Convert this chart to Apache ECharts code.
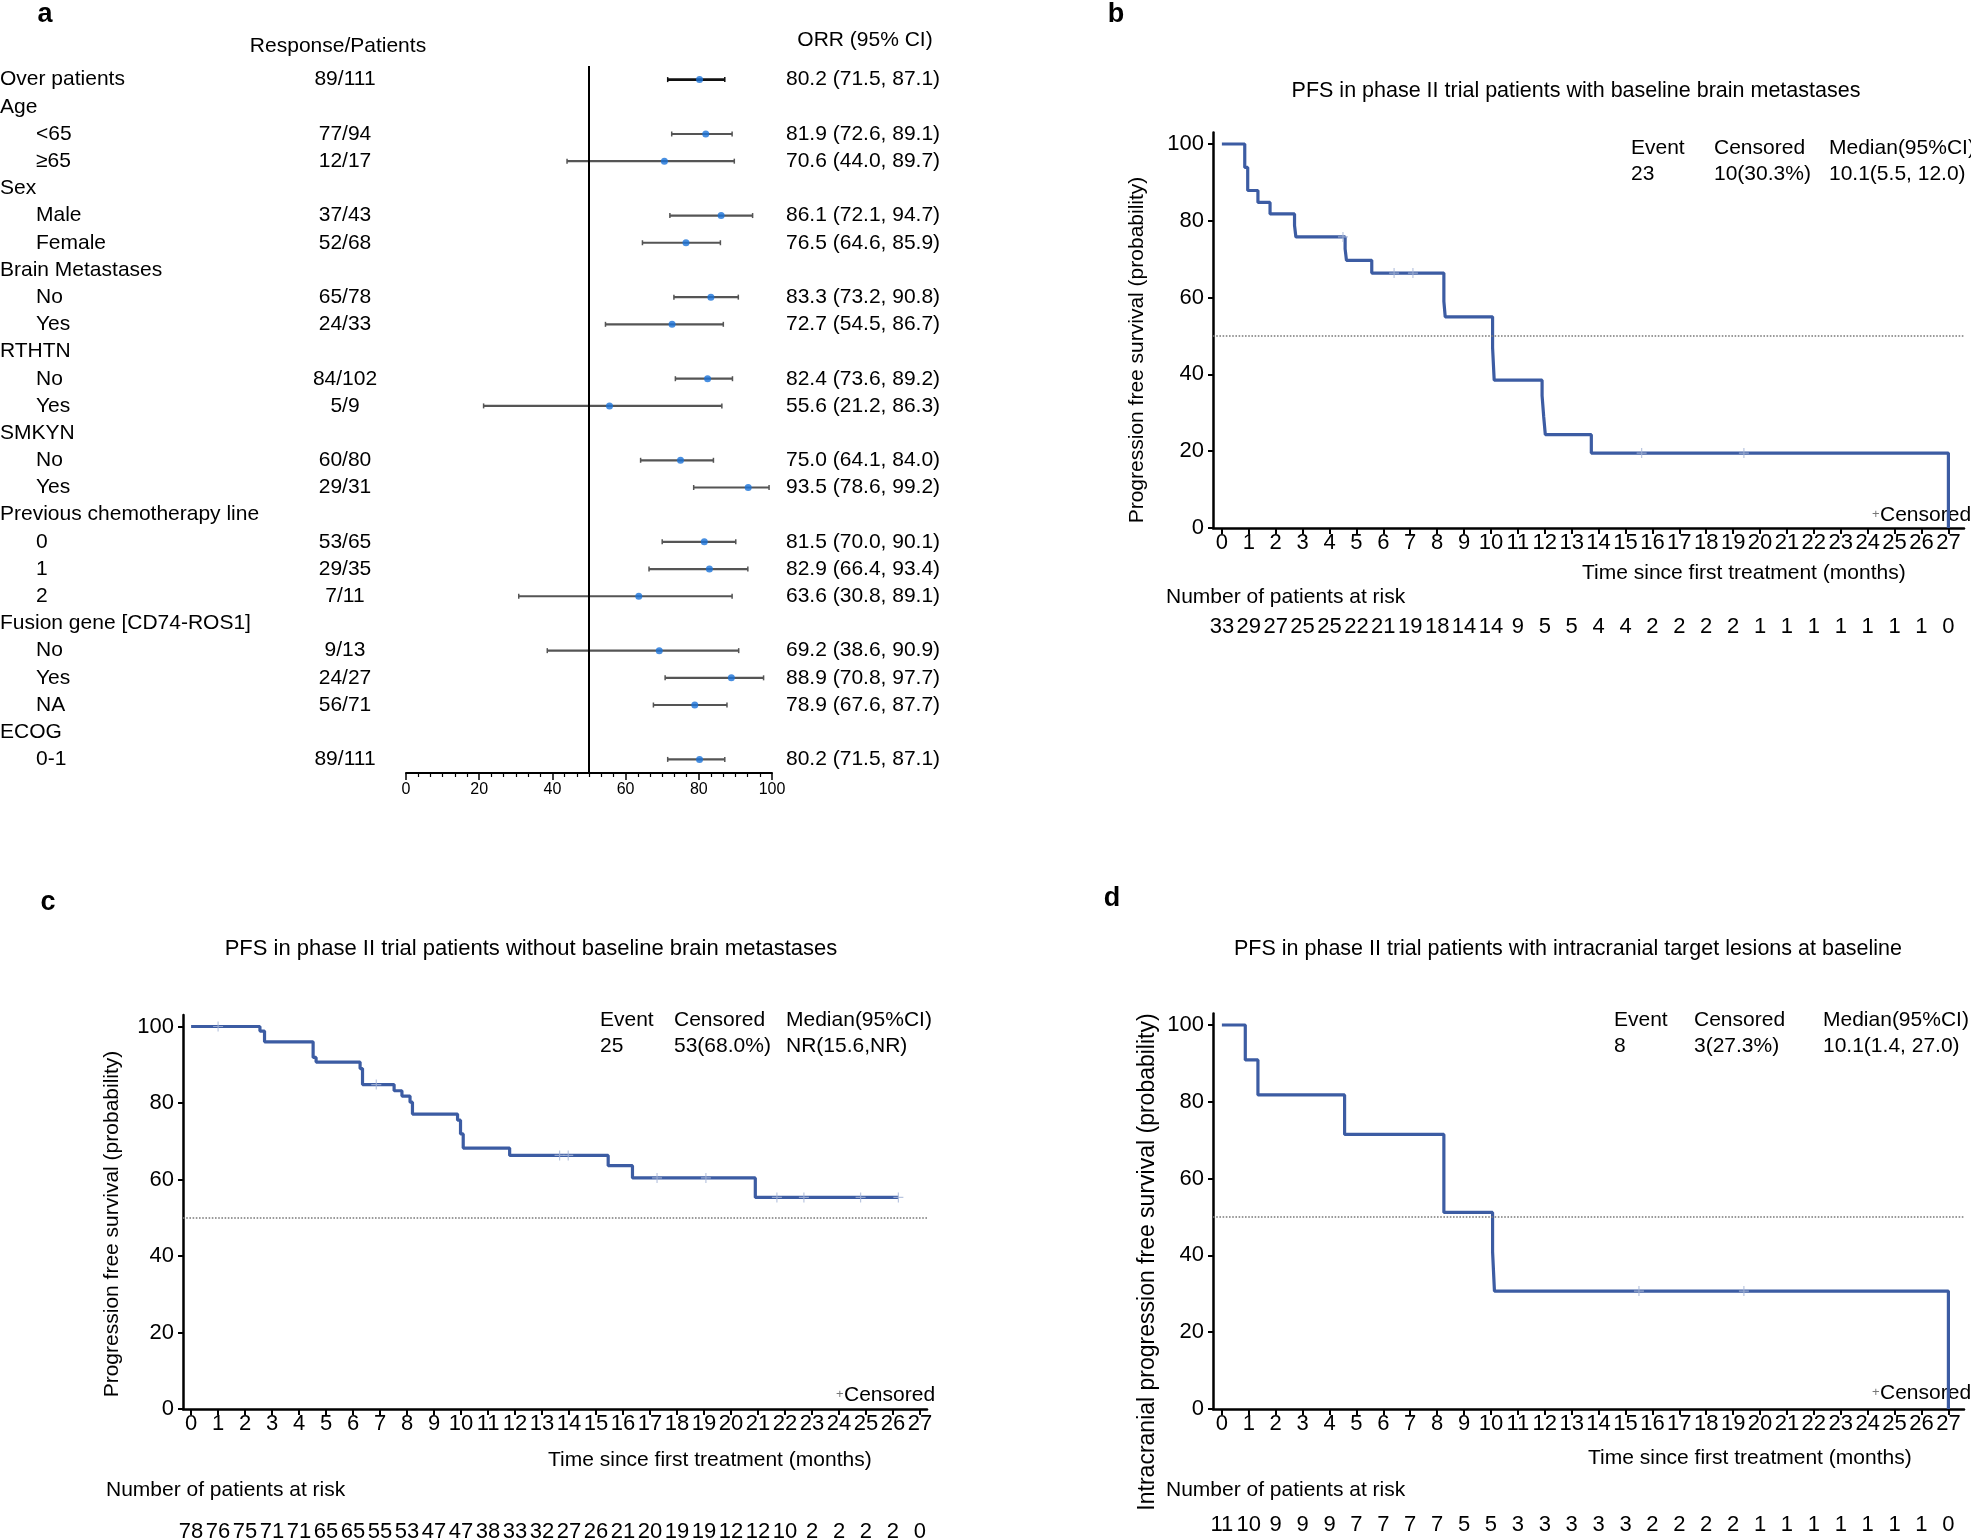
<!DOCTYPE html>
<html><head><meta charset="utf-8">
<script src="https://cdn.jsdelivr.net/npm/echarts@6/dist/echarts.min.js"></script>
<style>html,body{margin:0;padding:0;background:#fff}#c{width:1971px;height:1539px}</style>
</head><body><div id="c"></div>
<script>
// ---------------- Panel a : forest plot data ----------------
const rowLabels = ['Over patients','Age','<65','≥65','Sex','Male','Female','Brain Metastases','No','Yes','RTHTN','No','Yes','SMKYN','No','Yes','Previous chemotherapy line','0','1','2','Fusion gene [CD74-ROS1]','No','Yes','NA','ECOG','0-1'];
const responses = ['89/111','','77/94','12/17','','37/43','52/68','','65/78','24/33','','84/102','5/9','','60/80','29/31','','53/65','29/35','7/11','','9/13','24/27','56/71','','89/111'];
const orr    = [80.2,null,81.9,70.6,null,86.1,76.5,null,83.3,72.7,null,82.4,55.6,null,75.0,93.5,null,81.5,82.9,63.6,null,69.2,88.9,78.9,null,80.2];
const ciLow  = [71.5,null,72.6,44.0,null,72.1,64.6,null,73.2,54.5,null,73.6,21.2,null,64.1,78.6,null,70.0,66.4,30.8,null,38.6,70.8,67.6,null,71.5];
const ciHigh = [87.1,null,89.1,89.7,null,94.7,85.9,null,90.8,86.7,null,89.2,86.3,null,84.0,99.2,null,90.1,93.4,89.1,null,90.9,97.7,87.7,null,87.1];
const forestRef = 50;

// ---------------- KM panels data ----------------
const monthTicks = [0,1,2,3,4,5,6,7,8,9,10,11,12,13,14,15,16,17,18,19,20,21,22,23,24,25,26,27];
const survTicks = [0,20,40,60,80,100];

const kmB = [[0,100],[0.85,93.9],[0.96,87.9],[1.34,84.8],[1.79,81.8],[2.7,78.8],[2.75,75.8],[4.58,72.7],[4.63,69.7],[5.57,66.4],[8.25,59.0],[8.3,55.0],[10.06,47.0],[10.12,38.5],[11.9,34.5],[11.96,29.0],[12.02,24.3],[13.73,19.5],[27.0,0]];
const censB = [[4.5,75.8],[6.4,66.4],[7.1,66.4],[15.6,19.5],[19.4,19.5]];
const riskB = [33,29,27,25,25,22,21,19,18,14,14,9,5,5,4,4,2,2,2,2,1,1,1,1,1,1,1,0];

const kmC = [[0,100],[2.55,98.8],[2.72,96.0],[4.52,91.9],[4.63,90.7],[6.26,89.0],[6.35,84.8],[7.52,83.2],[7.81,81.8],[8.11,80.2],[8.2,77.1],[9.87,75.5],[9.98,71.9],[10.08,68.2],[11.8,66.3],[15.45,63.6],[16.35,60.4],[20.9,55.3],[26.2,55.3]];
const censC = [[1.0,100],[6.86,84.8],[13.65,66.3],[13.97,66.3],[17.26,60.4],[19.07,60.4],[21.7,55.3],[22.7,55.3],[24.8,55.3],[26.2,55.3]];
const riskC = [78,76,75,71,71,65,65,55,53,47,47,38,33,32,27,26,21,20,19,19,12,12,10,2,2,2,2,0];

const kmD = [[0,100],[0.87,90.9],[1.34,81.8],[4.56,71.5],[8.25,51.2],[10.06,41.0],[10.13,30.7],[27.0,0]];
const censD = [[15.5,30.7],[19.4,30.7]];
const riskD = [11,10,9,9,9,7,7,7,7,5,5,3,3,3,3,3,2,2,2,2,1,1,1,1,1,1,1,0];

const legendHead = ['Event','Censored','Median(95%CI)'];
const legendB = ['23','10(30.3%)','10.1(5.5, 12.0)'];
const legendC = ['25','53(68.0%)','NR(15.6,NR)'];
const legendD = ['8','3(27.3%)','10.1(1.4, 27.0)'];

const titleB = 'PFS in phase II trial patients with baseline brain metastases';
const titleC = 'PFS in phase II trial patients without baseline brain metastases';
const titleD = 'PFS in phase II trial patients with intracranial target lesions at baseline';
const yNamePFS = 'Progression free survival (probability)';
const yNameIC = 'Intracranial progression free survival (probability)';
const xNameKM = 'Time since first treatment (months)';
const riskTitle = 'Number of patients at risk';

// ---------------- styling ----------------
const FONT = '"Liberation Sans", Arial, Helvetica, sans-serif';
const KM_COLOR = '#3c5ca3';
const CENS_COLOR = '#a9b8d8';
const PLUS = 'path://M-1,-0.12L1,-0.12L1,0.12L-1,0.12Z M-0.12,-1L0.12,-1L0.12,1L-0.12,1Z';

const chart = echarts.init(document.getElementById('c'), null, {renderer:'canvas'});

function txt(text, x, y, o){
  o = o || {};
  const st = {text, fill: o.color || '#000', fontSize: o.size || 21, fontFamily: FONT,
    fontWeight: o.weight || 'normal', align: o.align || 'left', textAlign: o.align || 'left',
    verticalAlign: 'middle', textVerticalAlign: 'middle'};
  return {type:'text', x, y, rotation: o.rot || 0, style: st, silent: true};
}

function kmXAxis(grid, min, max){
  return {gridIndex: grid, type:'value', min, max,
    axisLine:{show:true, onZero:false, lineStyle:{color:'#000', width:2.5}},
    axisTick:{show:true, customValues: monthTicks, length:6, lineStyle:{color:'#000', width:2}},
    axisLabel:{show:true, customValues: monthTicks, color:'#000', fontSize:22, fontFamily:FONT, margin:4, hideOverlap:false},
    splitLine:{show:false}};
}
function riskXAxis(grid, min, max, risk){
  return {gridIndex: grid, type:'value', min, max,
    axisLine:{show:false}, axisTick:{show:false}, splitLine:{show:false},
    axisLabel:{show:true, customValues: monthTicks, color:'#000', fontSize:22, fontFamily:FONT, margin:5, hideOverlap:false,
      formatter: v => String(risk[Math.round(v)])}};
}
function kmYAxis(grid){
  return {gridIndex: grid, type:'value', position:'left', min:0, max:103,
    axisLine:{show:true, onZero:false, lineStyle:{color:'#000', width:2.5}},
    axisTick:{show:true, customValues: survTicks, length:5, lineStyle:{color:'#000', width:2}},
    axisLabel:{show:true, customValues: survTicks, color:'#000', fontSize:22, fontFamily:FONT, margin:9},
    splitLine:{show:false}};
}
function hiddenY(grid){ return {gridIndex:grid, type:'value', show:false, min:0, max:1}; }

function kmSeries(xi, yi, data, cens){
  return [{
    type:'line', xAxisIndex:xi, yAxisIndex:yi, data, step:'end', showSymbol:false, symbol:'none',
    lineStyle:{color:KM_COLOR, width:3.2}, silent:true, z:3,
    markLine:{silent:true, symbol:['none','none'], label:{show:false},
      lineStyle:{color:'#7a7a7a', width:1.6, type:'dotted'}, data:[{yAxis:50}]}
  },{
    type:'scatter', xAxisIndex:xi, yAxisIndex:yi, data:cens, symbol:PLUS, symbolSize:10,
    itemStyle:{color:CENS_COLOR}, silent:true, z:4
  }];
}

const isSub = i => responses[i] !== '' && i !== 0;
const ciData = [], ptData = [];
orr.forEach((v,i)=>{ if(v!=null){ ciData.push([ciLow[i], ciHigh[i], i]); ptData.push([v, i]); } });

const option = {
  animation:false,
  backgroundColor:'#fff',
  textStyle:{fontFamily:FONT},
  grid:[
    {left:406, top:66, width:366, height:707, outerBoundsMode:'none', containLabel:false},   // 0 forest
    {left:1213, top:132.5, width:751, height:395.5, outerBoundsMode:'none', containLabel:false}, // 1 b
    {left:1213, top:607, width:751, height:4, outerBoundsMode:'none', containLabel:false},      // 2 b risk
    {left:183, top:1015, width:744, height:394, outerBoundsMode:'none', containLabel:false},     // 3 c
    {left:183, top:1512, width:744, height:4, outerBoundsMode:'none', containLabel:false},      // 4 c risk
    {left:1213, top:1013.5, width:751, height:395.5, outerBoundsMode:'none', containLabel:false}, // 5 d
    {left:1213, top:1505, width:751, height:4, outerBoundsMode:'none', containLabel:false}      // 6 d risk
  ],
  xAxis:[
    {gridIndex:0, type:'value', min:0, max:100, interval:20,
      axisLine:{show:true, onZero:false, lineStyle:{color:'#000', width:2}},
      axisTick:{show:true, length:7, lineStyle:{color:'#000', width:1.5}},
      minorTick:{show:true, splitNumber:6, length:4, lineStyle:{color:'#000', width:1.2}},
      axisLabel:{color:'#000', fontSize:16, fontFamily:FONT, margin:9},
      splitLine:{show:false}, minorSplitLine:{show:false}},
    kmXAxis(1, -0.33, 27.58),
    riskXAxis(2, -0.33, 27.58, riskB),
    kmXAxis(3, -0.3, 27.26),
    riskXAxis(4, -0.3, 27.26, riskC),
    kmXAxis(5, -0.33, 27.58),
    riskXAxis(6, -0.33, 27.58, riskD)
  ],
  yAxis:[
    {gridIndex:0, type:'category', position:'left', offset:0, inverse:true, data: rowLabels.map((_,i)=>String(i)),
      axisLine:{show:false}, axisTick:{show:false}, splitLine:{show:false},
      axisLabel:{interval:0, align:'left', margin:406, color:'#000', fontSize:21, fontFamily:FONT,
        formatter:(v,i)=> (isSub(i)?'{s|':'{h|') + rowLabels[i] + '}',
        rich:{h:{fontSize:21, fontFamily:FONT, color:'#000'}, s:{fontSize:21, fontFamily:FONT, color:'#000', padding:[0,0,0,36]}}}},
    {gridIndex:0, type:'category', position:'left', offset:0, inverse:true, data: rowLabels.map((_,i)=>String(i)),
      axisLine:{show:false}, axisTick:{show:false}, splitLine:{show:false},
      axisLabel:{interval:0, align:'center', margin:61, color:'#000', fontSize:21, fontFamily:FONT,
        formatter:(v,i)=> responses[i]}},
    {gridIndex:0, type:'category', position:'right', offset:0, inverse:true, data: rowLabels.map((_,i)=>String(i)),
      axisLine:{show:false}, axisTick:{show:false}, splitLine:{show:false},
      axisLabel:{interval:0, align:'left', margin:14, color:'#000', fontSize:21, fontFamily:FONT,
        formatter:(v,i)=> orr[i]==null ? '' : `${orr[i].toFixed(1)} (${ciLow[i].toFixed(1)}, ${ciHigh[i].toFixed(1)})`}},
    kmYAxis(1), hiddenY(2),
    kmYAxis(3), hiddenY(4),
    kmYAxis(5), hiddenY(6)
  ],
  series:[
    {type:'custom', xAxisIndex:0, yAxisIndex:0, data:ciData, encode:{x:[0,1], y:2}, silent:true, z:2,
      renderItem:(params, api)=>{
        const row = api.value(2);
        const lo = api.coord([api.value(0), row]);
        const hi = api.coord([api.value(1), row]);
        const first = row === 0;
        const col = first ? '#111' : '#555';
        const w = first ? 2.8 : 2.2;
        return {type:'group', children:[
          {type:'line', shape:{x1:lo[0], y1:lo[1], x2:hi[0], y2:hi[1]}, style:{stroke:col, lineWidth:w}},
          {type:'line', shape:{x1:lo[0], y1:lo[1]-2.5, x2:lo[0], y2:lo[1]+2.5}, style:{stroke:col, lineWidth:1.5}},
          {type:'line', shape:{x1:hi[0], y1:hi[1]-2.5, x2:hi[0], y2:hi[1]+2.5}, style:{stroke:col, lineWidth:1.5}}
        ]};
      }},
    {type:'scatter', xAxisIndex:0, yAxisIndex:0, data:ptData, symbol:'circle', symbolSize:7,
      itemStyle:{color:'#1a73d9'}, silent:true, z:3,
      markLine:{silent:true, symbol:['none','none'], label:{show:false},
        lineStyle:{color:'#000', width:2, type:'solid'}, data:[{xAxis:forestRef}]}},
    ...kmSeries(1, 3, kmB, censB),
    ...kmSeries(3, 5, kmC, censC),
    ...kmSeries(5, 7, kmD, censD)
  ],
  graphic:[
    // panel letters
    txt('a', 45, 15, {size:27, weight:'bold', align:'center'}),
    txt('b', 1116, 15, {size:27, weight:'bold', align:'center'}),
    txt('c', 48, 903, {size:27, weight:'bold', align:'center'}),
    txt('d', 1112, 899, {size:27, weight:'bold', align:'center'}),
    // forest headers
    txt('Response/Patients', 338, 46, {align:'center'}),
    txt('ORR (95% CI)', 865, 40, {align:'center'}),
    // titles
    txt(titleB, 1576, 91, {size:21.5, align:'center'}),
    txt(titleC, 531, 949, {size:22, align:'center'}),
    txt(titleD, 1568, 949, {size:21.5, align:'center'}),
    // legends b
    txt(legendHead[0], 1631, 148), txt(legendHead[1], 1714, 148), txt(legendHead[2], 1829, 148),
    txt(legendB[0], 1631, 174), txt(legendB[1], 1714, 174), txt(legendB[2], 1829, 174),
    // legends c
    txt(legendHead[0], 600, 1020), txt(legendHead[1], 674, 1020), txt(legendHead[2], 786, 1020),
    txt(legendC[0], 600, 1046), txt(legendC[1], 674, 1046), txt(legendC[2], 786, 1046),
    // legends d
    txt(legendHead[0], 1614, 1020), txt(legendHead[1], 1694, 1020), txt(legendHead[2], 1823, 1020),
    txt(legendD[0], 1614, 1046), txt(legendD[1], 1694, 1046), txt(legendD[2], 1823, 1046),
    // censored keys
    txt('+', 1872, 514, {size:13, color:'#777'}), txt('Censored', 1880, 515),
    txt('+', 836, 1394, {size:13, color:'#777'}), txt('Censored', 844, 1395),
    txt('+', 1872, 1392, {size:13, color:'#777'}), txt('Censored', 1880, 1393),
    // y names
    txt(yNamePFS, 1137, 350, {align:'center', rot:Math.PI/2}),
    txt(yNamePFS, 112, 1224, {align:'center', rot:Math.PI/2}),
    txt(yNameIC, 1148, 1262, {size:23, align:'center', rot:Math.PI/2}),
    // x names
    txt(xNameKM, 1582, 573), txt(xNameKM, 548, 1460), txt(xNameKM, 1588, 1458),
    // risk titles
    txt(riskTitle, 1166, 597), txt(riskTitle, 106, 1490), txt(riskTitle, 1166, 1490)
  ]
};
chart.setOption(option);
</script>
</body></html>
